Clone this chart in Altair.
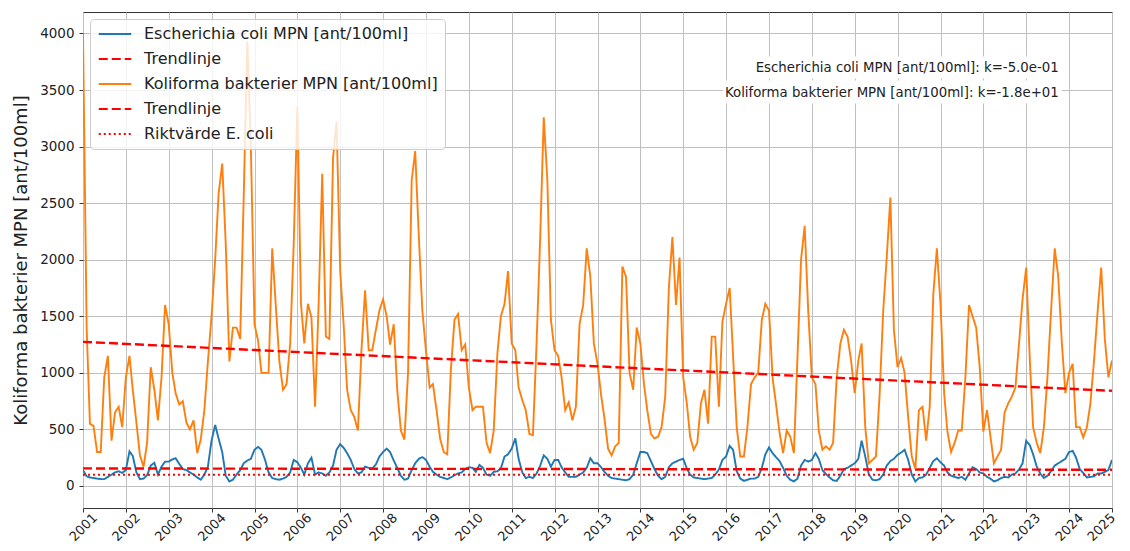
import altair as alt
import pandas as pd

# ---------------- data ----------------
# monthly values, first day of each month, Jan 2001 ... Jan 2025
ecoli = [
    140, 85, 75, 70, 65, 60, 60, 80, 100, 120, 130, 115,        # 2001
    140, 305, 265, 120, 60, 65, 95, 180, 205, 100, 170, 215,    # 2002
    215, 235, 245, 195, 150, 140, 120, 100, 75, 55, 100, 170,   # 2003
    400, 540, 420, 300, 90, 40, 55, 100, 140, 200, 225, 240,    # 2004
    320, 345, 320, 230, 120, 70, 60, 55, 65, 80, 120, 230,      # 2005
    210, 160, 100, 200, 250, 100, 120, 110, 90, 120, 180, 320,  # 2006
    370, 335, 290, 230, 150, 110, 120, 170, 160, 155, 190, 260, # 2007
    300, 330, 300, 225, 160, 90, 55, 65, 140, 200, 240, 255,    # 2008
    230, 170, 125, 100, 80, 70, 60, 75, 95, 110, 120, 150,      # 2009
    165, 160, 125, 185, 160, 100, 90, 125, 130, 155, 260, 280,  # 2010
    330, 420, 240, 120, 70, 80, 70, 110, 180, 270, 240, 170,    # 2011
    230, 230, 165, 120, 80, 80, 80, 100, 120, 160, 245, 200,    # 2012
    200, 165, 125, 90, 70, 65, 60, 55, 50, 60, 100, 200,        # 2013
    300, 300, 290, 220, 150, 90, 60, 80, 165, 200, 215, 230,    # 2014
    240, 155, 100, 75, 70, 65, 60, 65, 70, 100, 145, 230,       # 2015
    260, 355, 320, 130, 65, 45, 55, 65, 65, 80, 160, 280,       # 2016
    340, 290, 255, 220, 160, 90, 55, 40, 65, 180, 230, 215,     # 2017
    230, 290, 240, 140, 105, 75, 50, 45, 90, 150, 160, 180,     # 2018
    200, 240, 400, 260, 105, 55, 50, 60, 100, 180, 220, 240,    # 2019
    275, 295, 320, 230, 100, 40, 70, 75, 100, 160, 220, 245,    # 2020
    210, 180, 120, 90, 80, 70, 80, 55, 110, 165, 150, 120,      # 2021
    110, 80, 65, 40, 50, 70, 80, 75, 100, 110, 145, 200,        # 2022
    400, 360, 280, 170, 110, 70, 90, 130, 180, 200, 220, 240,   # 2023
    300, 310, 250, 150, 115, 75, 80, 85, 110, 110, 125, 140,    # 2024
    230,                                                        # 2025
]

koliforma = [
    4000, 1400, 550, 530, 300, 300, 960, 1150, 400, 650, 700, 520,         # 2001
    960, 1150, 850, 560, 270, 170, 380, 1050, 850, 580, 960, 1600,         # 2002
    1430, 1000, 820, 720, 750, 560, 500, 580, 290, 410, 670, 1100,         # 2003
    1500, 2000, 2580, 2850, 2140, 1100, 1400, 1400, 1300, 2550, 3930, 3000, # 2004
    1430, 1280, 1000, 1000, 1000, 2100, 1600, 1100, 850, 900, 1260, 2140,  # 2005
    3350, 1610, 1260, 1610, 1490, 700, 1600, 2760, 1320, 1300, 2900, 3220, # 2006
    1900, 1400, 850, 670, 610, 490, 1200, 1730, 1200, 1200, 1380, 1550,    # 2007
    1650, 1500, 1250, 1430, 850, 490, 410, 1000, 2700, 2960, 2200, 1550,   # 2008
    1190, 870, 900, 670, 420, 300, 280, 1030, 1470, 1520, 1200, 1250,      # 2009
    870, 670, 700, 700, 700, 380, 290, 490, 1170, 1500, 1610, 1900,        # 2010
    1260, 1200, 870, 760, 670, 460, 450, 1260, 2200, 3260, 2700, 1470,     # 2011
    1200, 1150, 960, 670, 740, 580, 700, 1430, 1600, 2100, 1850, 1260,     # 2012
    1080, 800, 600, 330, 270, 350, 380, 1940, 1850, 1000, 850, 1400,       # 2013
    1260, 900, 670, 460, 420, 435, 520, 790, 1750, 2200, 1600, 2020,       # 2014
    960, 730, 435, 320, 380, 730, 850, 550, 1320, 1320, 700, 1450,         # 2015
    1610, 1750, 1150, 520, 260, 260, 520, 900, 960, 1000, 1470, 1610,      # 2016
    1550, 950, 730, 470, 290, 490, 435, 290, 1150, 2000, 2300, 1550,       # 2017
    960, 900, 490, 320, 350, 320, 380, 960, 1260, 1380, 1320, 1110,        # 2018
    820, 1110, 1260, 520, 200, 230, 260, 800, 1550, 2020, 2550, 1380,      # 2019
    1050, 1130, 1000, 600, 260, 150, 670, 700, 400, 700, 1700, 2100,       # 2020
    1610, 820, 480, 300, 380, 490, 490, 960, 1600, 1500, 1400, 1050,       # 2021
    480, 670, 450, 200, 260, 320, 650, 730, 790, 870, 1260, 1650,          # 2022
    1930, 1110, 520, 380, 290, 520, 960, 1550, 2100, 1850, 1260, 820,      # 2023
    1000, 1080, 520, 520, 430, 520, 730, 1110, 1550, 1930, 1300, 960,      # 2024
    1110,                                                                  # 2025
]

trend_dates = ["2001-01-01", "2025-01-01"]
trend_ecoli = [155, 143]
trend_koliforma = [1274, 841]
riktvarde = [100, 100]

series_names = [
    "Escherichia coli MPN [ant/100ml]",
    "Trendlinje",
    "Koliforma bakterier MPN [ant/100ml]",
    "Trendlinje ",
    "Riktvärde E. coli",
]
series_colors = ["#1f77b4", "#ff0000", "#ff7f0e", "#ff0000", "#ff0000"]
series_dashes = [[1, 0], [9, 4], [1, 0], [9, 4], [2, 3]]

ann_labels = [
    "Escherichia coli MPN [ant/100ml]: k=-5.0e-01",
    "Koliforma bakterier MPN [ant/100ml]: k=-1.8e+01",
]
ann_dates = ["2023-10-05", "2023-10-05"]
ann_values = [3699, 3478]
box_x1 = ["2016-08-03", "2015-12-05"]
box_x2 = ["2023-10-30", "2023-10-30"]
box_y1 = [3797, 3584]
box_y2 = [3602, 3381]

y_ticks = [0, 500, 1000, 1500, 2000, 2500, 3000, 3500, 4000]
years = list(range(2001, 2026))

# ---------------- build tables ----------------
dates = pd.date_range("2001-01-01", periods=len(ecoli), freq="MS").strftime("%Y-%m-%d")

df_e = pd.DataFrame({"date": dates, "value": ecoli, "series": series_names[0]})
df_te = pd.DataFrame({"date": trend_dates, "value": trend_ecoli, "series": series_names[1]})
df_k = pd.DataFrame({"date": dates, "value": koliforma, "series": series_names[2]})
df_tk = pd.DataFrame({"date": trend_dates, "value": trend_koliforma, "series": series_names[3]})
df_r = pd.DataFrame({"date": trend_dates, "value": riktvarde, "series": series_names[4]})
df_ann = pd.DataFrame({"date": ann_dates, "value": ann_values, "label": ann_labels})
df_box = pd.DataFrame({"x1": box_x1, "x2": box_x2, "y1": box_y1, "y2": box_y2})

FONT = "DejaVu Sans"

x_scale = alt.Scale(domain=[alt.DateTime(year=2001, month=1, date=1),
                            alt.DateTime(year=2025, month=1, date=1)], nice=False)
y_scale = alt.Scale(domain=[-195, 4190], nice=False, zero=False)

x_axis = alt.Axis(
    values=[alt.DateTime(year=y, month=1, date=1) for y in years],
    format="%Y", labelAngle=-45, labelAlign="center", labelBaseline="middle",
    labelPadding=15, tickSize=4, labelFontSize=13, labelOverlap=False,
    labelFlush=False, grid=True, domain=False, title=None,
    labelOffset=alt.condition("year(datum.value) >= 2025", alt.value(-11), alt.value(0)),
)
y_axis = alt.Axis(
    values=y_ticks, format="d", tickSize=4, labelPadding=5, labelFontSize=13.5,
    labelOverlap=False, labelFlush=False, grid=True, domain=False,
    title="Koliforma bakterier MPN [ant/100ml]", titleFontSize=18,
    titleFontWeight="normal", titlePadding=9,
)

legend = alt.Legend(
    orient="none", legendX=7, legendY=7, title=None,
    fillColor="rgba(255,255,255,0.8)", strokeColor="#cccccc", cornerRadius=4,
    padding=7, labelFontSize=16, labelFont=FONT, labelColor="#222222",
    symbolType="M-2.5,0H2.5", symbolSize=169, symbolStrokeWidth=2.2,
    symbolOffset=10, labelOffset=21, rowPadding=9, labelLimit=500,
)

c_scale = alt.Scale(domain=series_names, range=series_colors)
d_scale = alt.Scale(domain=series_names, range=series_dashes)


def line(df, width):
    return alt.Chart(df).mark_line(strokeWidth=width, clip=True).encode(
        x=alt.X("date:T", scale=x_scale, axis=x_axis),
        y=alt.Y("value:Q", scale=y_scale, axis=y_axis),
        color=alt.Color("series:N", scale=c_scale, legend=legend),
        strokeDash=alt.StrokeDash("series:N", scale=d_scale, legend=legend),
    )


boxes = alt.Chart(df_box).mark_rect(color="white").encode(
    x="x1:T", x2="x2:T", y="y1:Q", y2="y2:Q"
)
texts = alt.Chart(df_ann).mark_text(
    align="right", baseline="middle", fontSize=13.3, font=FONT, color="#222222"
).encode(x="date:T", y="value:Q", text="label:N")

chart = alt.layer(
    line(df_e, 1.9),
    line(df_te, 2.4),
    line(df_k, 1.9),
    line(df_tk, 2.4),
    line(df_r, 2),
    boxes,
    texts,
).properties(
    width=1029, height=496,
    autosize=alt.AutoSizeParams(type="none"),
    padding={"left": 75, "top": 4, "right": 10, "bottom": 40},
).configure_view(
    stroke="#333333", strokeWidth=1
).configure_axis(
    gridColor="#c0c0c0", gridWidth=1, tickColor="#333333",
    labelColor="#222222", titleColor="#222222", labelFont=FONT, titleFont=FONT,
)

chart.save("out.html", embed_options={"renderer": "svg", "actions": False})
